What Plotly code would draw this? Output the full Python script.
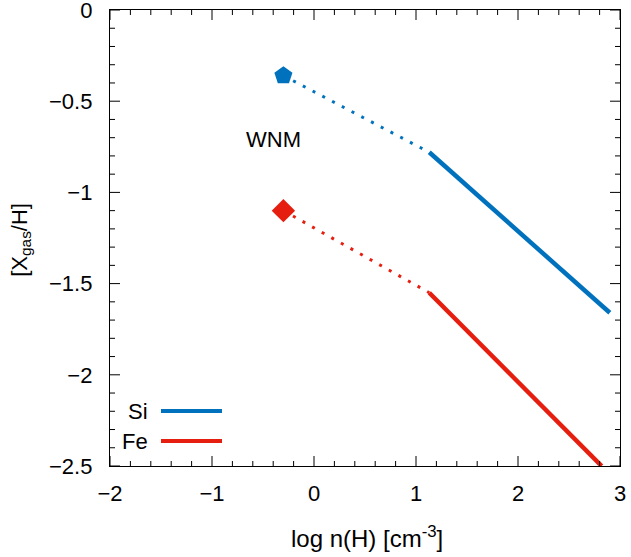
import numpy as np
import plotly.graph_objects as go

# Data
si_marker_x = [-0.3]
si_marker_y = [-0.36]
si_dotted_x = [-0.3, 1.13]
si_dotted_y = [-0.36, -0.78]
si_solid_x = [1.13, 2.9]
si_solid_y = [-0.78, -1.66]

fe_marker_x = [-0.3]
fe_marker_y = [-1.10]
fe_dotted_x = [-0.3, 1.13]
fe_dotted_y = [-1.10, -1.55]
fe_solid_x = [1.13, 2.82]
fe_solid_y = [-1.55, -2.50]

x_range = [-2, 3]
y_range = [-2.5, 0]
x_major, x_minor = 1, 0.2
y_major, y_minor = 0.5, 0.1

BLUE = "#0072bd"
RED = "#e51e10"
FONT = "Liberation Sans, Arial, sans-serif"

W, H = 631, 557
ML, MR, MT, MB = 110, 11, 10, 91
PW, PH = W - ML - MR, H - MT - MB

fig = go.Figure()
fig.add_trace(go.Scatter(x=si_dotted_x, y=si_dotted_y, mode="lines",
                         line=dict(color=BLUE, width=3, dash="3px,8px"), showlegend=False))
fig.add_trace(go.Scatter(x=si_solid_x, y=si_solid_y, mode="lines",
                         line=dict(color=BLUE, width=4.5), showlegend=False))
fig.add_trace(go.Scatter(x=si_marker_x, y=si_marker_y, mode="markers",
                         marker=dict(symbol="pentagon", size=19, color=BLUE), showlegend=False))
fig.add_trace(go.Scatter(x=fe_dotted_x, y=fe_dotted_y, mode="lines",
                         line=dict(color=RED, width=3, dash="3px,8px"), showlegend=False))
fig.add_trace(go.Scatter(x=fe_solid_x, y=fe_solid_y, mode="lines",
                         line=dict(color=RED, width=4.5), showlegend=False))
fig.add_trace(go.Scatter(x=fe_marker_x, y=fe_marker_y, mode="markers",
                         marker=dict(symbol="diamond", size=18, color=RED), showlegend=False))

fig.add_annotation(x=-0.4, y=-0.71, text="WNM", showarrow=False,
                   font=dict(family=FONT, size=22, color="black"))

# Legend (text left of line sample), in paper coordinates
legend_items = [("Si", BLUE, 0.1206), ("Fe", RED, 0.0548)]
for name, col, yp in legend_items:
    fig.add_annotation(xref="paper", yref="paper", x=0.078, y=yp, text=name,
                       showarrow=False, xanchor="right", yanchor="middle",
                       font=dict(family=FONT, size=22, color="black"))
    fig.add_shape(type="line", xref="paper", yref="paper", x0=0.10, x1=0.2196,
                  y0=yp, y1=yp, line=dict(color=col, width=4))

# Inside ticks on all four sides, placed with the axes' own scales
def tick_positions(lo, hi, step):
    n = int(round((hi - lo) / step))
    return [round(lo + i * step, 6) for i in range(n + 1)]

x_major_pos = tick_positions(x_range[0], x_range[1], x_major)
x_minor_pos = [v for v in tick_positions(x_range[0], x_range[1], x_minor)
               if not np.isclose(v, x_major_pos).any()]
y_major_pos = tick_positions(y_range[0], y_range[1], y_major)
y_minor_pos = [v for v in tick_positions(y_range[0], y_range[1], y_minor)
               if not np.isclose(v, y_major_pos).any()]

tick_line = dict(color="black", width=1)
for positions, length in ((x_major_pos, 10), (x_minor_pos, 5)):
    f = length / PH
    for v in positions:
        fig.add_shape(type="line", xref="x", yref="paper", x0=v, x1=v, y0=0, y1=f,
                      line=tick_line, layer="above")
        fig.add_shape(type="line", xref="x", yref="paper", x0=v, x1=v, y0=1, y1=1 - f,
                      line=tick_line, layer="above")
for positions, length in ((y_major_pos, 10), (y_minor_pos, 5)):
    f = length / PW
    for v in positions:
        fig.add_shape(type="line", xref="paper", yref="y", y0=v, y1=v, x0=0, x1=f,
                      line=tick_line, layer="above")
        fig.add_shape(type="line", xref="paper", yref="y", y0=v, y1=v, x0=1, x1=1 - f,
                      line=tick_line, layer="above")

common = dict(showgrid=False, zeroline=False, showline=True, linecolor="black",
              linewidth=1, mirror=True, ticks="", automargin=False,
              ticklabeloverflow="allow",
              tickfont=dict(family=FONT, size=22, color="black"))

fig.update_xaxes(range=x_range, tickmode="linear", tick0=x_range[0], dtick=x_major,
                 ticklabelstandoff=8, **common)
fig.update_yaxes(range=y_range, tickmode="linear", tick0=0, dtick=y_major,
                 ticksuffix="  ", **common)

# Axis titles as text placed in paper coordinates
fig.add_annotation(xref="paper", yref="paper", x=0.504, y=-0.1557,
                   text="log n(H) [cm<sup>-3</sup>]", showarrow=False,
                   xanchor="center", yanchor="middle",
                   font=dict(family=FONT, size=24, color="black"))
fig.add_annotation(xref="paper", yref="paper", x=-0.175, y=0.4956,
                   text="[X<sub>gas</sub>/H]", textangle=-90, showarrow=False,
                   xanchor="center", yanchor="middle",
                   font=dict(family=FONT, size=22, color="black"))

fig.update_layout(width=W, height=H,
                  margin=dict(l=ML, r=MR, t=MT, b=MB, autoexpand=False),
                  plot_bgcolor="white", paper_bgcolor="white", showlegend=False)

fig.write_html("out.html")
